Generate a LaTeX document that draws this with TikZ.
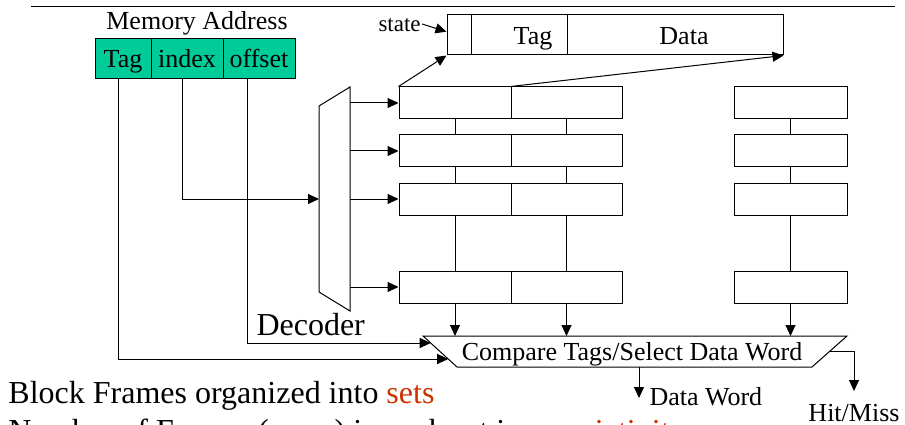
\documentclass[tikz,border=0pt]{standalone}
\usepackage{fontspec}
\setmainfont{Liberation Serif}
\usetikzlibrary{arrows.meta,calc}
\definecolor{fieldgreen}{RGB}{0,204,153}
\definecolor{accent}{RGB}{204,51,0}
\newcommand{\sizeA}{\fontsize{26pt}{31pt}\selectfont}
\newcommand{\sizeB}{\fontsize{32pt}{38pt}\selectfont}
\newcommand{\sizeC}{\fontsize{23pt}{28pt}\selectfont}
\begin{document}
\begin{tikzpicture}[x=1pt,y=-1pt,line width=1pt,
  arr/.style={-{Triangle[length=11pt,width=10pt]}},
  field/.style={draw,fill=fieldgreen,minimum height=40pt,inner sep=0pt,
    text height=18pt,text depth=0pt,font=\sizeA},
  cell/.style={draw,minimum height=32pt,inner sep=0pt},
  lbl/.style={inner sep=0pt,anchor=base}]
\useasboundingbox (0,0) rectangle (905,425);
\clip (0,0) rectangle (905,425);

% title rule
\draw (31,7) -- (895,7);

% memory address fields
\node[lbl,font=\sizeA] (maddr) at (197,30) {Memory Address};
\node[field,minimum width=56pt] (tagc) at (123,59) {Tag};
\node[field,minimum width=72pt] (idxc) at (187,59) {index};
\node[field,minimum width=72pt] (offc) at (259,59) {offset};

% cache line format
\node[draw,minimum width=24pt,minimum height=40pt,inner sep=0pt] (st) at (459,35) {};
\node[draw,minimum width=96pt,minimum height=40pt,inner sep=0pt] (tg) at (519,35) {};
\node[draw,minimum width=216pt,minimum height=40pt,inner sep=0pt] (dt) at (675,35) {};
\node[lbl,font=\sizeA] (tgtxt) at (533,45) {Tag};
\node[lbl,font=\sizeA] (dttxt) at (684,45) {Data};
\node[lbl,anchor=base west,font=\sizeC] (sttxt) at (378,32) {state};
\draw[arr] ($(sttxt.base east)+(1,-8)$) -- ($(st.north west)!0.42!(st.south west)$);

% block frames, one row per set
\foreach \r/\y in {1/103,2/151,3/199,4/287} {
  \node[cell,minimum width=112pt] (ra\r) at (455,\y) {};
  \node[cell,minimum width=111pt] (rb\r) at (566.5,\y) {};
  \node[cell,minimum width=113pt] (rc\r) at (790.5,\y) {};
}
\foreach \c in {a,b,c} {
  \draw (r\c1.south) -- (r\c2.north);
  \draw (r\c2.south) -- (r\c3.north);
  \draw (r\c3.south) -- (r\c4.north);
}
\draw[arr] (ra1.north west) -- (st.south west);
\draw[arr] (rb1.north west) -- (dt.south east);

% decoder
\coordinate (decTL) at (319,106);
\coordinate (decTR) at (350,87);
\coordinate (decBR) at (350,311);
\coordinate (decBL) at (319,292);
\draw (decTL) -- (decTR) -- (decBR) -- (decBL) -- cycle;
\node[lbl,anchor=base west,font=\sizeB] (decl) at (256,335) {Decoder};
\foreach \r in {1,...,4} \draw[arr] (ra\r.west -| decTR) -- (ra\r.west);
\draw[arr] ([xshift=-5pt]idxc.south) |- (ra3.west -| decTL);

% compare / select unit
\coordinate (cTL) at (423,336);
\coordinate (cTR) at (847,336);
\coordinate (cBR) at (812,367);
\coordinate (cBL) at (457,367);
\draw (cTL) -- (cTR) -- (cBR) -- (cBL) -- cycle;
\node[lbl,font=\sizeA] (cmp) at (632,360) {Compare Tags/Select Data Word};
\foreach \c in {a,b,c} \draw[arr] (r\c4.south) -- (r\c4.south |- cTL);
\draw[arr] ([xshift=-5pt]tagc.south) |- ($(cTL)!0.742!(cBL)$);
\draw[arr] ([xshift=-12pt]offc.south) |- ($(cTL)!0.226!(cBL)$);

% outputs
\coordinate (dwtop) at (639,367);
\coordinate (dwtip) at (639,398);
\node[lbl,anchor=base west,font=\sizeA] (dw) at (649,405) {Data Word};
\draw[arr] (dwtop) -- (dwtip);
\coordinate (hmtip) at (854,391);
\node[lbl,font=\sizeA] (hm) at (854,421) {Hit/Miss};
\draw[arr] ($(cTR)!0.484!(cBR)$) -| (hmtip);

% notes
\node[lbl,anchor=base west,font=\sizeB] (note1) at (8,403) {Block Frames organized into \textcolor{accent}{sets}};
\node[lbl,anchor=base west,font=\sizeB] (note2) at (8,441) {Number of Frames (ways) in each set is \textcolor{accent}{associativity}};
\end{tikzpicture}
\end{document}
